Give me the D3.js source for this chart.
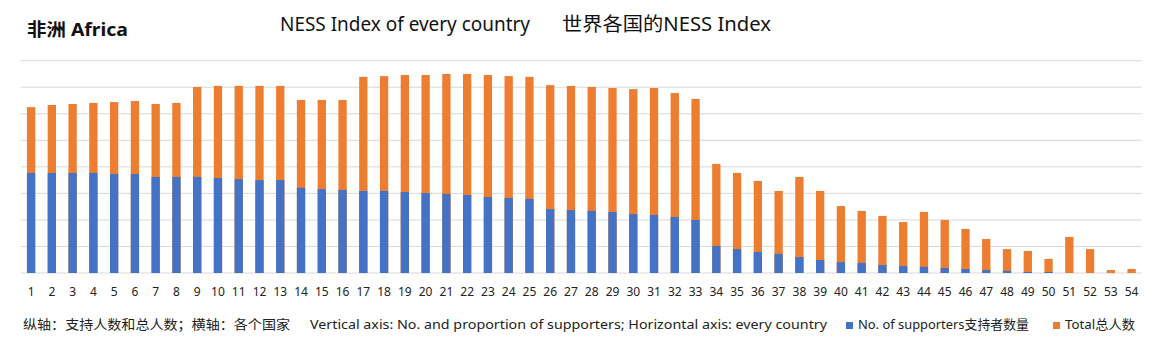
<!DOCTYPE html>
<html>
<head>
<meta charset="utf-8">
<script src="https://cdn.jsdelivr.net/npm/d3@7/dist/d3.min.js"></script>
<style>
  html, body { margin: 0; padding: 0; background: #fff; }
  svg { display: block; font-family: "Noto Sans", "Noto Sans CJK SC", sans-serif; }
</style>
</head>
<body>
<svg id="chart" width="1159" height="350"></svg>
<script>
const countries = d3.range(1, 55).map(String);
const totals = [
  6.25, 6.33, 6.37, 6.41, 6.44, 6.48, 6.37, 6.41, 7.01, 7.05,
  7.05, 7.05, 7.05, 6.52, 6.52, 6.52, 7.39, 7.42, 7.46, 7.46,
  7.50, 7.50, 7.46, 7.42, 7.39, 7.08, 7.05, 7.01, 6.97, 6.93,
  6.97, 6.78, 6.56, 4.11, 3.77, 3.47, 3.09, 3.62, 3.09, 2.52,
  2.34, 2.15, 1.92, 2.30, 2.00, 1.66, 1.28, 0.90, 0.83, 0.53,
  1.36, 0.90, 0.11, 0.15
];
const supporters = [
  3.77, 3.77, 3.77, 3.77, 3.73, 3.73, 3.62, 3.62, 3.62, 3.58,
  3.54, 3.50, 3.50, 3.21, 3.16, 3.13, 3.09, 3.09, 3.05, 3.01,
  2.98, 2.94, 2.86, 2.83, 2.79, 2.41, 2.37, 2.34, 2.30, 2.22,
  2.19, 2.11, 2.00, 1.02, 0.90, 0.79, 0.72, 0.60, 0.49, 0.41,
  0.38, 0.30, 0.26, 0.23, 0.19, 0.15, 0.11, 0.08, 0.04, 0.04,
  0, 0, 0, 0
];
const gridTicks = d3.range(0, 9);
const titleEn = "NESS Index of every country";
const titleZh = "世界各国的NESS Index";
const regionLabel = "非洲 Africa";
const noteZh = "纵轴：支持人数和总人数；横轴：各个国家";
const noteEn = "Vertical axis: No. and proportion of supporters; Horizontal axis: every country";
const legendNames = ["No. of supporters支持者数量", "Total总人数"];
const colors = { sup: "#4472C4", tot: "#ED7D31" };

const svg = d3.select("#chart");
const plotLeft = 20.7, plotRight = 1142, plotTop = 60.7, plotBottom = 273;

const x = d3.scaleBand().domain(countries).range([plotLeft, plotRight]).paddingInner(0.6).paddingOuter(0.3);
const y = d3.scaleLinear().domain([0, 8]).range([plotBottom, plotTop]);

// gridlines
svg.append("g").selectAll("line").data(gridTicks).join("line")
  .attr("x1", plotLeft).attr("x2", plotRight)
  .attr("y1", d => y(d)).attr("y2", d => y(d))
  .attr("stroke", "#d9d9d9").attr("stroke-width", 1);

// total bars
svg.append("g").selectAll("rect").data(countries).join("rect")
  .attr("x", d => x(d)).attr("width", x.bandwidth())
  .attr("y", (d, i) => y(totals[i]))
  .attr("height", (d, i) => y(0) - y(totals[i]))
  .attr("fill", colors.tot);

// supporters bars
svg.append("g").selectAll("rect").data(countries).join("rect")
  .attr("x", d => x(d)).attr("width", x.bandwidth())
  .attr("y", (d, i) => y(supporters[i]))
  .attr("height", (d, i) => y(0) - y(supporters[i]))
  .attr("fill", colors.sup);

// x axis labels
const xAxis = d3.axisBottom(x).tickSize(0).tickPadding(0);
const gx = svg.append("g").attr("transform", `translate(0,${plotBottom})`).call(xAxis);
gx.select(".domain").remove();
gx.selectAll("text").attr("font-family", "'Noto Sans', sans-serif").attr("font-size", 12)
  .attr("fill", "#222").attr("y", 23).attr("dy", 0);

// titles
svg.append("text").attr("x", 27).attr("y", 36).attr("font-size", 18).attr("font-weight", "bold")
  .attr("fill", "#111").attr("textLength", 101).attr("lengthAdjust", "spacingAndGlyphs").text(regionLabel);
svg.append("text").attr("x", 280).attr("y", 31).attr("font-size", 19).attr("fill", "#111")
  .attr("textLength", 250).attr("lengthAdjust", "spacingAndGlyphs").text(titleEn);
svg.append("text").attr("x", 562).attr("y", 31).attr("font-size", 19).attr("fill", "#111")
  .attr("textLength", 209).attr("lengthAdjust", "spacingAndGlyphs").text(titleZh);

// bottom notes
svg.append("text").attr("x", 23).attr("y", 329).attr("font-size", 13).attr("fill", "#222")
  .attr("textLength", 267).attr("lengthAdjust", "spacingAndGlyphs").text(noteZh);
svg.append("text").attr("x", 310).attr("y", 329).attr("font-size", 13).attr("fill", "#222")
  .attr("textLength", 517).attr("lengthAdjust", "spacingAndGlyphs").text(noteEn);

// legend
const legend = [
  { name: legendNames[0], color: colors.sup, sx: 846, tx: 858, tl: 171 },
  { name: legendNames[1], color: colors.tot, sx: 1053, tx: 1065, tl: 70 }
];
const lg = svg.append("g");
lg.selectAll("rect").data(legend).join("rect")
  .attr("x", d => d.sx).attr("y", 322).attr("width", 7).attr("height", 7).attr("fill", d => d.color);
lg.selectAll("text").data(legend).join("text")
  .attr("x", d => d.tx).attr("y", 329).attr("font-size", 13).attr("fill", "#222")
  .attr("textLength", d => d.tl).attr("lengthAdjust", "spacingAndGlyphs").text(d => d.name);
</script>
</body>
</html>
